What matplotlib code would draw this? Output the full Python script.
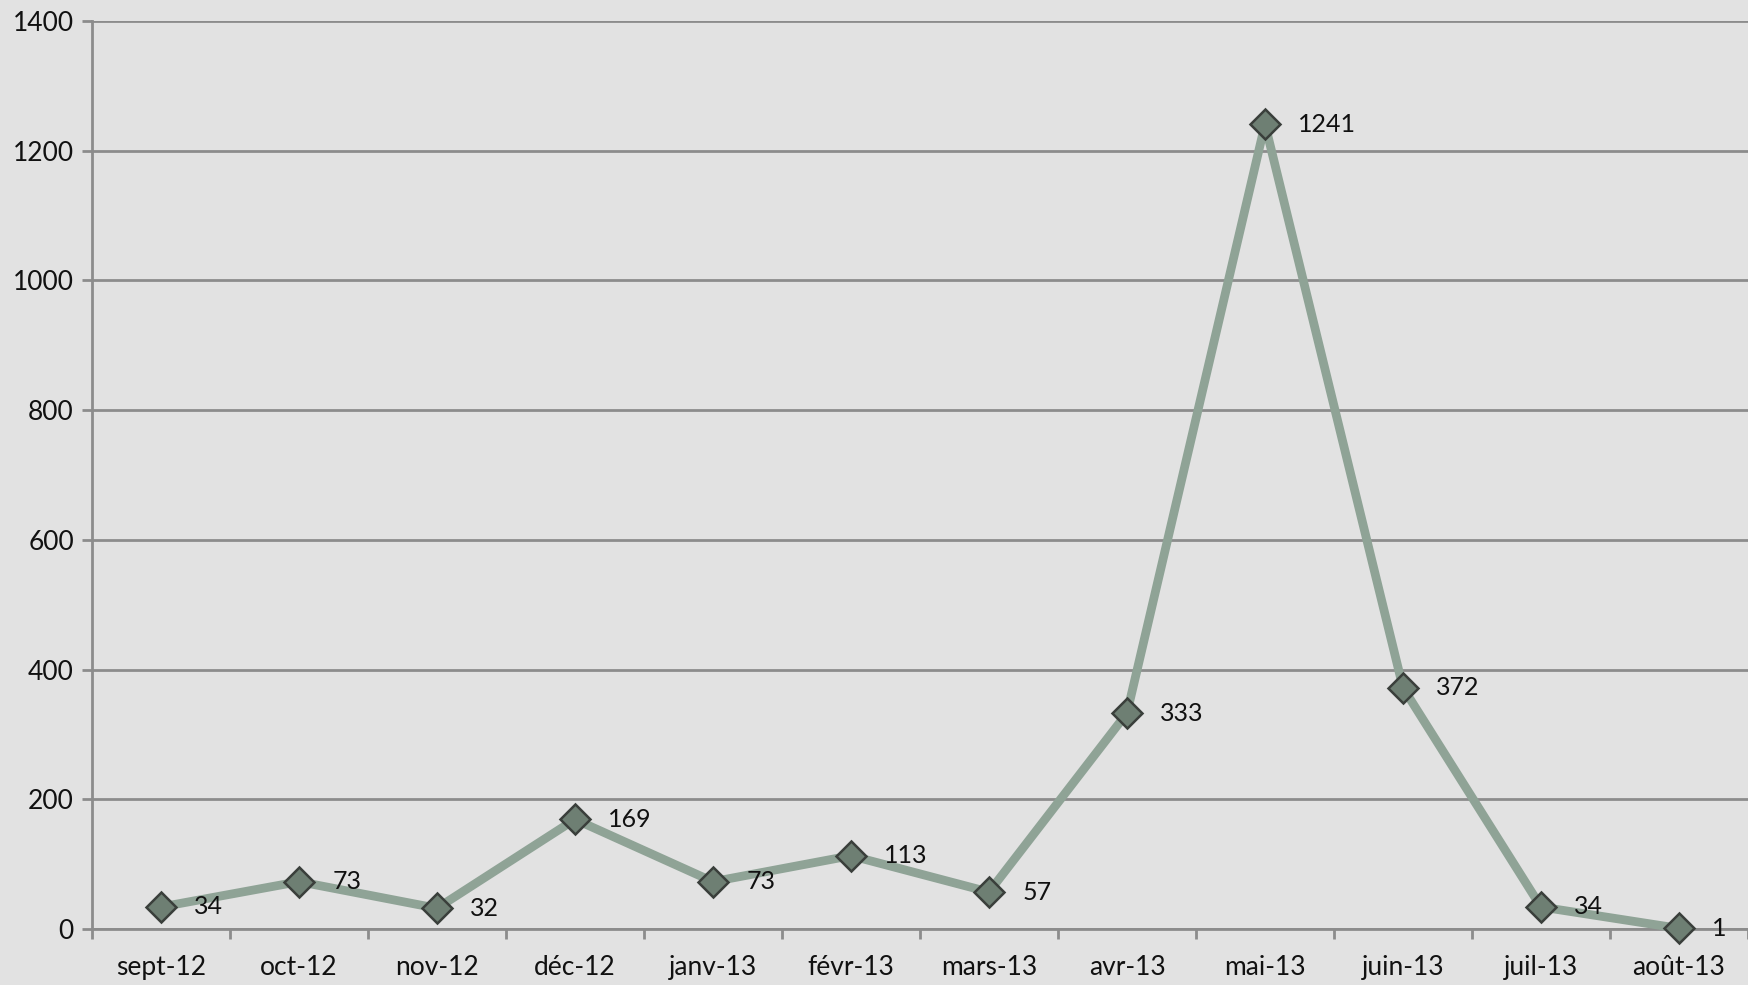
import matplotlib.pyplot as plt
import numpy as np

# data
months = ['sept-12', 'oct-12', 'nov-12', 'déc-12', 'janv-13', 'févr-13',
          'mars-13', 'avr-13', 'mai-13', 'juin-13', 'juil-13', 'août-13']
counts = [34, 73, 32, 169, 73, 113, 57, 333, 1241, 372, 34, 1]
y_ticks = [0, 200, 400, 600, 800, 1000, 1200, 1400]

plt.rcParams['font.family'] = ['Lato', 'DejaVu Sans']

bg = '#e2e2e2'
grid_col = '#8c8c8c'
line_col = '#8fa396'
marker_col = '#6e7f73'

fig = plt.figure(figsize=(17.48, 9.85), dpi=100, facecolor=bg)
ax = fig.add_axes([92 / 1748, 1 - 929 / 985, 1 - 92 / 1748, (929 - 21) / 985])
ax.set_facecolor(bg)

x = np.arange(len(months))
ax.plot(x, counts, color=line_col, lw=6.3, marker='D', ms=15,
        markerfacecolor=marker_col, markeredgecolor='#3a3f3b', markeredgewidth=1.8,
        zorder=3, clip_on=False)

for xi, v in zip(x, counts):
    ax.annotate(str(v), (xi, v), xytext=(24, 0), textcoords='offset points',
                ha='left', va='center', fontsize=18, color='#111111', zorder=4)

ax.set_ylim(0, 1400)
ax.set_xlim(-0.5, len(months) - 0.5)
ax.set_yticks(y_ticks)
ax.set_yticklabels([str(t) for t in y_ticks], fontsize=19, color='#111111')
ax.yaxis.grid(True, color=grid_col, lw=2)
ax.set_axisbelow(True)

# category boundaries get the tick marks, labels sit at the centres
ax.set_xticks(np.arange(-0.5, len(months), 1.0))
ax.set_xticklabels([])
ax.set_xticks(x, minor=True)
ax.set_xticklabels(months, minor=True, fontsize=19, color='#111111')
ax.tick_params(axis='x', which='minor', length=0, pad=19)
ax.tick_params(axis='x', which='major', length=7, width=2, color=grid_col)
ax.tick_params(axis='y', length=7, width=2, color=grid_col, pad=6)

for side in ['top', 'right']:
    ax.spines[side].set_visible(False)
for side in ['left', 'bottom']:
    ax.spines[side].set_color(grid_col)
    ax.spines[side].set_linewidth(2)

fig.savefig('out.png', dpi=100, facecolor=bg)
